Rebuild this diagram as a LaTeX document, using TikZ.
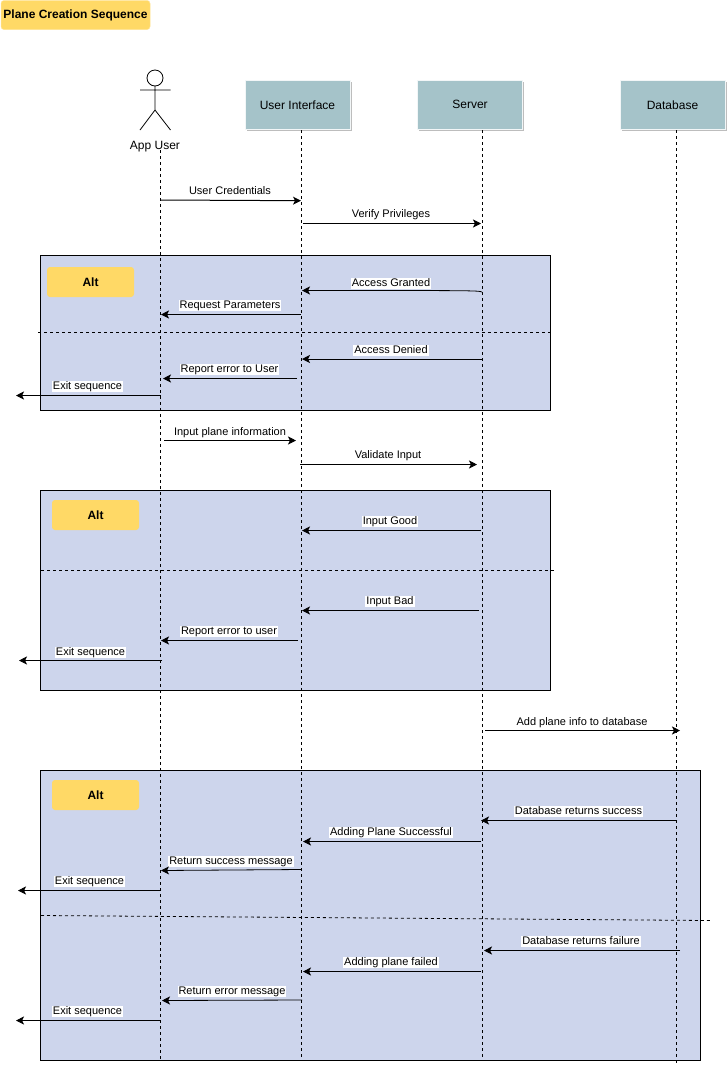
\documentclass[tikz,border=0pt]{standalone}
\usepackage{fontspec}
\setmainfont{Liberation Sans}
\usetikzlibrary{arrows.meta}
\definecolor{frameblue}{HTML}{CDD5EC}
\definecolor{headteal}{HTML}{A5C3C9}
\definecolor{tagyellow}{HTML}{FFD966}
\definecolor{shadowgray}{HTML}{BDBDBD}
\tikzset{
  x=1pt,y=-1pt,
  lifeline/.style={draw=black,line width=0.8pt,dash pattern=on 3pt off 3pt},
  divider/.style={draw=black,line width=0.8pt,dash pattern=on 3pt off 3pt},
  altframe/.style={draw=black,fill=frameblue,line width=0.9pt},
  tagbox/.style={fill=tagyellow,rounded corners=3pt},
  headbox/.style={fill=headteal,draw=white!85!headteal,line width=0.4pt,anchor=north west,inner sep=0pt,font=\fontsize{12}{14}\selectfont},
  shadowbox/.style={fill=shadowgray},
  msg/.style={draw=black,line width=0.8pt,-{Stealth[length=8pt,width=8pt,inset=2pt]}},
  msgthick/.style={msg,line width=1pt},
  lab/.style={fill=white,inner xsep=1pt,inner ysep=0pt,text height=8.5pt,text depth=2.5pt,font=\fontsize{11}{12}\selectfont},
  tagtext/.style={font=\bfseries\fontsize{12}{14}\selectfont},
  stick/.style={draw=black,line width=0.8pt},
}
\newcommand{\headbox}[6]{%
  \fill[shadowbox] (#2+2,#3+2) rectangle (#2+#4+2,#3+#5+2);
  \node[headbox,minimum width=#4pt,minimum height=#5pt] (#1) at (#2,#3) {#6};
}
\begin{document}
\begin{tikzpicture}
\useasboundingbox (0,0) rectangle (728,1066);
\fill[white] (0,0) rectangle (728,1066);
% title
\node[tagbox,draw=tagyellow!70!white,line width=0.5pt,minimum width=149pt,minimum height=29pt,inner sep=0pt,font=\bfseries\fontsize{12}{14}\selectfont] (title) at (75.5,15) {Plane Creation Sequence};
% frames
\draw[altframe] (40.5,255.5) rectangle (550.5,410.5);
\draw[altframe] (40.5,490.5) rectangle (550.5,690.5);
\draw[altframe] (40.5,770.5) rectangle (700.5,1060.5);
% tags
\node[tagbox,minimum width=87pt,minimum height=30pt,inner sep=0pt,tagtext] (alta) at (90.5,282) {Alt};
\node[tagbox,minimum width=87pt,minimum height=30pt,inner sep=0pt,tagtext] (altb) at (95.5,515) {Alt};
\node[tagbox,minimum width=87pt,minimum height=30pt,inner sep=0pt,tagtext] (altc) at (95.5,795) {Alt};
% dividers
\coordinate (da1) at (38,332); \coordinate (da2) at (552,332);
\coordinate (db1) at (41,570); \coordinate (db2) at (555,570);
\coordinate (dc1) at (41,915.5); \coordinate (dc2) at (710,920.5);
\draw[divider] (da1)--(da2);
\draw[divider] (db1)--(db2);
\draw[divider] (dc1)--(dc2);
% participants
\headbox{ui}{244.8}{79.8}{105}{49.5}{User Interface}
\headbox{srv}{417.3}{79.8}{105}{49.5}{Server}
\headbox{db}{619.8}{79.8}{105}{49.5}{Database}
% actor
\coordinate (head) at (155,78);
\coordinate (neck) at (155,86);
\coordinate (hip) at (155,110);
\coordinate (armL) at (140,90); \coordinate (armR) at (170.5,90);
\coordinate (legL) at (140,130); \coordinate (legR) at (170.5,130);
\draw[stick] (head) circle (8);
\draw[stick] (neck)--(hip) (armL)--(armR) (legL)--(hip)--(legR);
\node[font=\fontsize{12}{14}\selectfont,inner sep=0pt,text height=9pt,text depth=2.5pt] (actor) at (155,146) {App User};
% lifelines
\coordinate (l1t) at (160.5,150); \coordinate (l1b) at (160.5,1060);
\coordinate (l2t) at (301.5,130); \coordinate (l2b) at (301.5,1060);
\coordinate (l3t) at (482.5,130); \coordinate (l3b) at (482.5,1060);
\coordinate (l4t) at (676.5,130); \coordinate (l4b) at (676.5,1065);
\draw[lifeline] (l1t)--(l1b);
\draw[lifeline] (l2t)--(l2b);
\draw[lifeline] (l3t)--(l3b);
\draw[lifeline] (l4t)--(l4b);
% message labels
\node[lab] (t1) at (230,191) {User Credentials};
\node[lab] (t2) at (391,214) {Verify Privileges};
\node[lab] (t3) at (391,283) {Access Granted};
\node[lab] (t4) at (230,305) {Request Parameters};
\node[lab] (t5) at (391,350) {Access Denied};
\node[lab] (t6) at (229.5,369) {Report error to User};
\node[lab] (t7) at (87.5,386) {Exit sequence};
\node[lab] (t8) at (230,432) {Input plane information};
\node[lab] (t9) at (388,455) {Validate Input};
\node[lab] (t10) at (390,521) {Input Good};
\node[lab] (t11) at (390,601) {Input Bad};
\node[lab] (t12) at (229,631) {Report error to user};
\node[lab] (t13) at (90.5,652) {Exit sequence};
\node[lab] (t14) at (582,722) {Add plane info to database};
\node[lab] (t15) at (578.5,811) {Database returns success};
\node[lab] (t16) at (391,832) {Adding Plane Successful};
\node[lab] (t17) at (231,861) {Return success message};
\node[lab] (t18) at (89.5,881) {Exit sequence};
\node[lab] (t19) at (581,941) {Database returns failure};
\node[lab] (t20) at (391,962) {Adding plane failed};
\node[lab] (t21) at (232,991) {Return error message};
\node[lab] (t22) at (87.5,1011) {Exit sequence};
% message end points
\coordinate (a1) at (161,200); \coordinate (b1) at (301,200.7);
\coordinate (a2) at (303,223.5); \coordinate (b2) at (481,223.5);
\coordinate (a3) at (482,292); \coordinate (b3) at (302,290.5);
\coordinate (a4) at (301,314.5); \coordinate (b4) at (161,314.5);
\coordinate (a5) at (482,359); \coordinate (b5) at (302,359);
\coordinate (a6) at (297,378.5); \coordinate (b6) at (163,378.5);
\coordinate (a7) at (160.5,395.5); \coordinate (b7) at (16,395.5);
\coordinate (a8) at (164,440.5); \coordinate (b8) at (296,440.5);
\coordinate (a9) at (300,464.5); \coordinate (b9) at (477,464.5);
\coordinate (a10) at (481,530.5); \coordinate (b10) at (302,530.5);
\coordinate (a11) at (479,610.5); \coordinate (b11) at (302,610.5);
\coordinate (a12) at (298,640.5); \coordinate (b12) at (161,640.5);
\coordinate (a13) at (162,660.5); \coordinate (b13) at (19,660.5);
\coordinate (a14) at (485,730.5); \coordinate (b14) at (680,730.5);
\coordinate (a15) at (677,820.5); \coordinate (b15) at (481,820.5);
\coordinate (a16) at (481,841.5); \coordinate (b16) at (303,841.5);
\coordinate (a17) at (301,869.5); \coordinate (b17) at (161,870.5);
\coordinate (a18) at (161,890.5); \coordinate (b18) at (18,890.5);
\coordinate (a19) at (680,950.5); \coordinate (b19) at (484,950.5);
\coordinate (a20) at (481,971.5); \coordinate (b20) at (303,971.5);
\coordinate (a21) at (302,1000); \coordinate (b21) at (162,1000.5);
\coordinate (a22) at (160.5,1020.5); \coordinate (b22) at (16,1020.5);
% messages
\draw[msgthick] (a1)--(b1);
\draw[msg] (a2)--(b2);
\draw[msg] (a3) .. controls (478,290.5) and (474,290.5) .. (b3);
\draw[msg] (a4)--(b4);
\draw[msgthick] (a5)--(b5);
\foreach \n in {6,...,22}{\draw[msg] (a\n)--(b\n);}
\end{tikzpicture}
\end{document}
